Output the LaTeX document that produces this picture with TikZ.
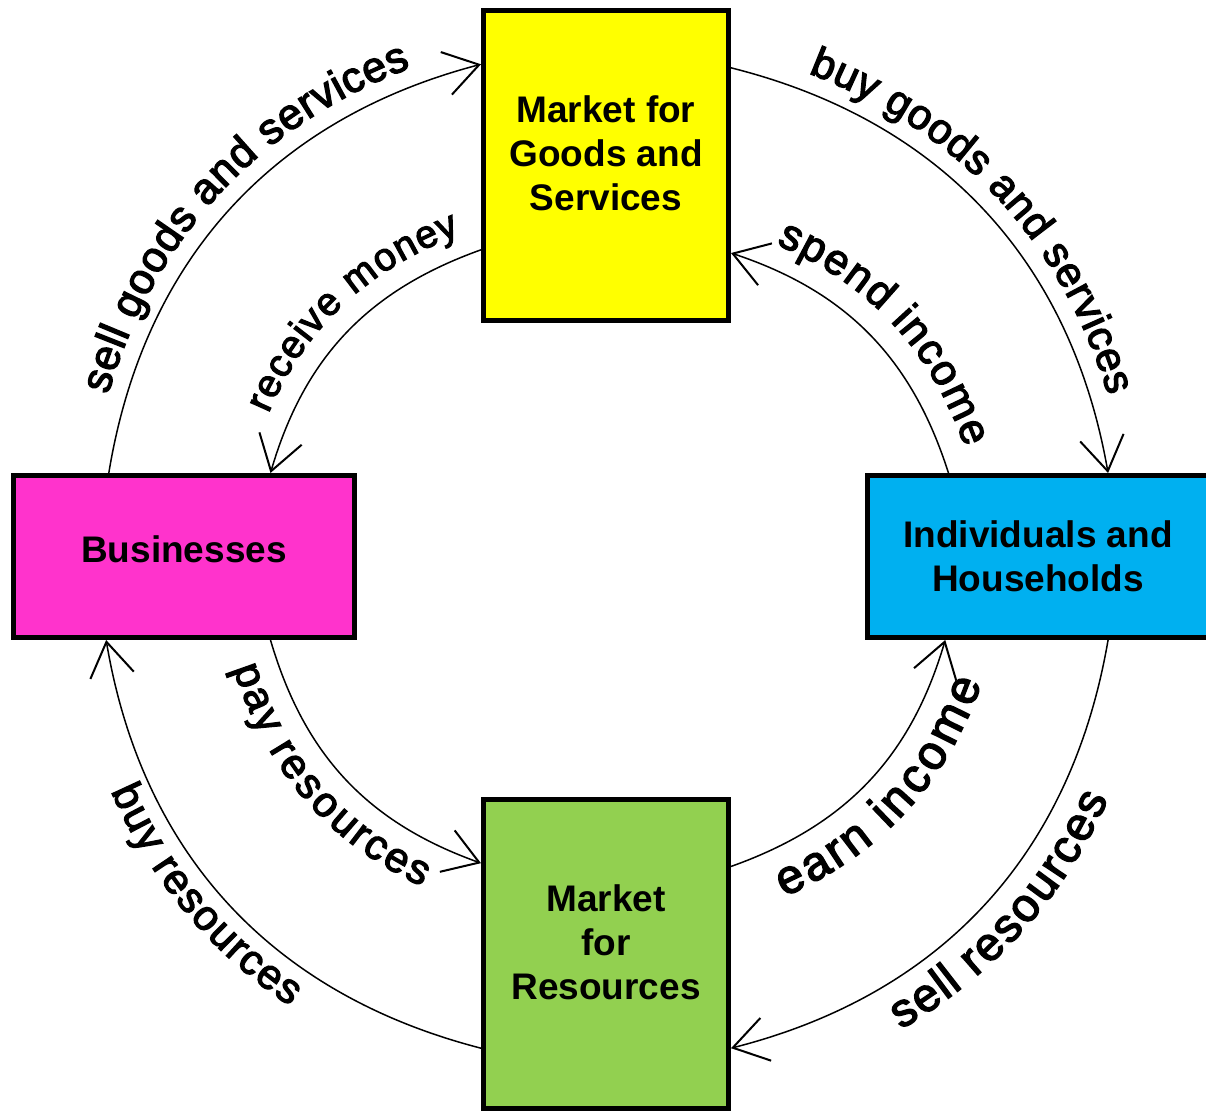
\documentclass[tikz,border=0pt]{standalone}
\usepackage{fontspec}
\setmainfont{Liberation Sans}
\newfontfamily\flowfont{Liberation Sans}[FakeBold=3]
\usetikzlibrary{arrows.meta,decorations.text}
\definecolor{goodsyellow}{HTML}{FFFF00}
\definecolor{bizpink}{HTML}{FF33CC}
\definecolor{homeblue}{HTML}{00B0F0}
\definecolor{resgreen}{HTML}{92D050}
\begin{document}
\begin{tikzpicture}[x=0.5pt, y=0.5pt,
			box/.style = {draw, line width=2.5pt, inner sep=0pt, align=center,
				font=\fontsize{18.5pt}{22pt}\selectfont\bfseries},
			flow/.style = {line width=0.75pt, -{Straight Barb[length=17pt,width=22pt,line width=1pt]}},
			flowtext/.style n args={4}{decorate, decoration={text along path,
				text align={align=center, #4}, raise=#3, text={|\flowfont\fontsize{#2}{#2}\selectfont|#1}}}]
			
			\useasboundingbox (0,0) rectangle (1206,1114);
			
			% the four boxes
			\node[box, fill=goodsyellow, minimum width=122.5pt, minimum height=155pt] (goods) at (606,948.5) {Market for\\Goods and\\Services\\[-10pt]};
			\node[box, fill=bizpink, minimum width=170.5pt, minimum height=81pt] (biz) at (184,557.5) {Businesses\\[-15pt]};
			\node[box, fill=homeblue, minimum width=170.5pt, minimum height=81pt] (home) at (1038,557.5) {Individuals and\\Households};
			\node[box, fill=resgreen, minimum width=122.5pt, minimum height=154.5pt] (res) at (606,160) {Market\\for\\Resources\\[-10pt]};
			
			% outer loop
			\draw[flow] (biz.132.3) to[bend left=33] (goods.141.5);
			\draw[flow] (goods.38.5) to[bend left=33] (home.50);
			\draw[flow] (home.-50) to[bend left=33] (res.-37.2);
			\draw[flow] (res.217.2) to[bend left=33] (biz.227.7);
			
			% inner loop
			\draw[flow] (goods.214.4) to[bend right=27] (biz.44.8);
			\draw[flow] (home.137.1) to[bend right=27] (goods.325.6);
			\draw[flow] (biz.-44.8) to[bend right=27] (res.144.9);
			\draw[flow] (res.35.1) to[bend right=27] (home.222.9);
			
			% labels
			\path[flowtext={sell goods and services}{21.5pt}{9pt}{left indent=4pt}] (biz.132.3) to[bend left=33] (goods.141.5);
			\path[flowtext={buy goods and services}{21pt}{9pt}{}] (goods.38.5) to[bend left=33] (home.50);
			\path[flowtext={sell resources}{23.4pt}{-23pt}{left indent=6pt}] (res.-37.2) to[bend right=33] (home.-50);
			\path[flowtext={buy resources}{21pt}{-19pt}{right indent=22pt}] (biz.227.7) to[bend right=33] (res.217.2);
			\path[flowtext={receive money}{19.5pt}{11pt}{left indent=20pt}] (biz.44.8) to[bend left=27] (goods.214.4);
			\path[flowtext={spend income}{21.5pt}{12pt}{left indent=10pt}] (goods.325.6) to[bend left=27] (home.137.1);
			\path[flowtext={pay resources}{21pt}{-22pt}{right indent=14pt}] (biz.-44.8) to[bend right=27] (res.144.9);
			\path[flowtext={earn income}{24pt}{-24pt}{left indent=4pt}] (res.35.1) to[bend right=27] (home.222.9);
\end{tikzpicture}
\end{document}
